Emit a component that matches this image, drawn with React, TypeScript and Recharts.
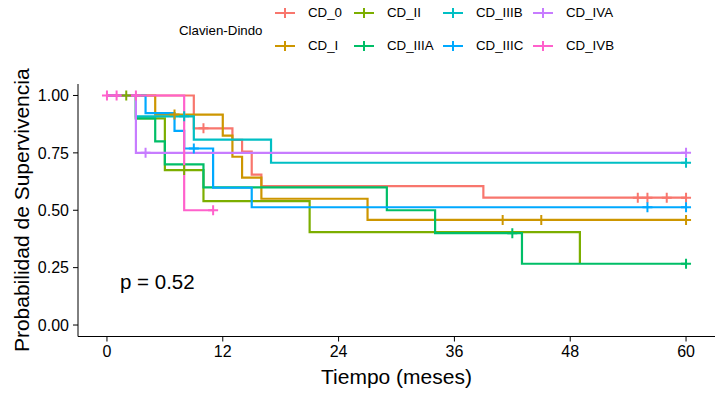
import { ComposedChart, Line, XAxis, YAxis } from 'recharts'

// curvas Kaplan-Meier por grado Clavien-Dindo (tiempo en meses, supervivencia)
const cd0Time = [0, 9, 13, 14, 15, 16, 39, 60]
const cd0Surv = [1, 0.857, 0.807, 0.756, 0.655, 0.605, 0.555, 0.555]
const cd0Cens = [10, 55, 56, 58, 60]

const cdITime = [0, 5, 12, 13, 14, 16, 27, 60]
const cdISurv = [1, 0.917, 0.825, 0.733, 0.642, 0.55, 0.458, 0.458]
const cdICens = [7, 41, 45, 60]

const cdIITime = [0, 3, 6, 10, 21, 49]
const cdIISurv = [1, 0.9, 0.675, 0.54, 0.405, 0.27]
const cdIICens = [2, 8]

const cdIIIATime = [0, 3, 5, 6, 10, 29, 34, 43, 60]
const cdIIIASurv = [1, 0.9, 0.8, 0.7, 0.6, 0.5, 0.4, 0.267, 0.267]
const cdIIIACens = [42, 60]

const cdIIIBTime = [0, 3, 9, 17, 60]
const cdIIIBSurv = [1, 0.909, 0.808, 0.707, 0.707]
const cdIIIBCens = [8, 60]

const cdIIICTime = [0, 4, 7, 8, 11, 15, 60]
const cdIIICSurv = [1, 0.923, 0.846, 0.769, 0.598, 0.513, 0.513]
const cdIIICCens = [9, 56, 60]

const cdIVATime = [0, 3, 60]
const cdIVASurv = [1, 0.75, 0.75]
const cdIVACens = [4, 60]

const cdIVBTime = [0, 8, 11]
const cdIVBSurv = [1, 0.5, 0.5]
const cdIVBCens = [0, 1, 3, 11]

const xTicks = [0, 12, 24, 36, 48, 60]
const yTicks = [0, 0.25, 0.5, 0.75, 1]
const pValue = 'p = 0.52'

const FONT = '"Liberation Sans", Arial, sans-serif'

const grupos = [
  { name: 'CD_0', color: '#F8766D', time: cd0Time, surv: cd0Surv, cens: cd0Cens },
  { name: 'CD_I', color: '#CD9600', time: cdITime, surv: cdISurv, cens: cdICens },
  { name: 'CD_II', color: '#7CAE00', time: cdIITime, surv: cdIISurv, cens: cdIICens },
  { name: 'CD_IIIA', color: '#00BE67', time: cdIIIATime, surv: cdIIIASurv, cens: cdIIIACens },
  { name: 'CD_IIIB', color: '#00BFC4', time: cdIIIBTime, surv: cdIIIBSurv, cens: cdIIIBCens },
  { name: 'CD_IIIC', color: '#00A9FF', time: cdIIICTime, surv: cdIIICSurv, cens: cdIIICCens },
  { name: 'CD_IVA', color: '#C77CFF', time: cdIVATime, surv: cdIVASurv, cens: cdIVACens },
  { name: 'CD_IVB', color: '#FF61CC', time: cdIVBTime, surv: cdIVBSurv, cens: cdIVBCens },
]

// valor de la curva escalonada en el tiempo t
function survAt(time: number[], surv: number[], t: number) {
  let s = surv[0]
  for (let i = 0; i < time.length; i++) if (time[i] <= t) s = surv[i]
  return s
}

const series = grupos.map((g) => ({
  ...g,
  steps: g.time.map((t, i) => ({ t, s: g.surv[i] })),
  marks: g.cens.map((t) => ({ t, s: survAt(g.time, g.surv, t) })),
}))

// orden de la leyenda: dos filas
const legendRows = [
  ['CD_0', 'CD_II', 'CD_IIIB', 'CD_IVA'],
  ['CD_I', 'CD_IIIA', 'CD_IIIC', 'CD_IVB'],
]
const legendCols = [285, 364, 453, 543]
const colorOf = (n: string) => grupos.find((g) => g.name === n)!.color

function plus(props: any, color: string) {
  const { cx, cy, key } = props
  if (cx == null || cy == null) return <g key={key} />
  return (
    <path
      key={key}
      d={`M${cx - 5},${cy}h10M${cx},${cy - 5}v10`}
      stroke={color}
      strokeWidth={2}
      fill="none"
    />
  )
}

export default function App() {
  return (
    <div style={{ position: 'absolute', left: 0, top: 0, width: 727, height: 393, background: '#fff', fontFamily: FONT }}>
      <ComposedChart width={727} height={393} margin={{ top: 84, right: 12, left: 0, bottom: 0 }}>
        <XAxis
          type="number"
          dataKey="t"
          domain={[-3, 63]}
          ticks={xTicks}
          allowDataOverflow
          height={56.5}
          stroke="#000"
          tickSize={5}
          tickMargin={4}
          tick={{ fontSize: 16, fill: '#000', fontFamily: FONT }}
          label={{ value: 'Tiempo (meses)', position: 'insideBottom', offset: 9, fontSize: 21, fill: '#000', fontFamily: FONT }}
        />
        <YAxis
          type="number"
          dataKey="s"
          domain={[-0.05, 1.05]}
          ticks={yTicks}
          allowDataOverflow
          width={78}
          stroke="#000"
          tickSize={5}
          tickMargin={4}
          tickFormatter={(v: number) => v.toFixed(2)}
          tick={{ fontSize: 16, fill: '#000', fontFamily: FONT }}
          label={{
            value: 'Probabilidad de Supervivencia',
            angle: -90,
            position: 'insideLeft',
            offset: 22,
            fontSize: 21,
            fill: '#000',
            fontFamily: FONT,
            style: { textAnchor: 'middle' },
          }}
        />
        {series.map((g) => (
          <Line
            key={g.name}
            data={g.steps}
            dataKey="s"
            type="stepAfter"
            stroke={g.color}
            strokeWidth={2.2}
            dot={false}
            activeDot={false}
            isAnimationActive={false}
          />
        ))}
        {series.map((g) => (
          <Line
            key={g.name + '-cens'}
            data={g.marks}
            dataKey="s"
            stroke="none"
            dot={(p: any) => plus(p, g.color)}
            activeDot={false}
            legendType="none"
            isAnimationActive={false}
          />
        ))}
      </ComposedChart>

      <div style={{ position: 'absolute', left: 120, top: 271, fontSize: 20.5, lineHeight: '22px', color: '#000' }}>
        {pValue}
      </div>

      <div style={{ position: 'absolute', left: 179, top: 22, fontSize: 13.3, lineHeight: '18px', color: '#000' }}>
        Clavien-Dindo
      </div>
      {legendRows.map((row, r) =>
        row.map((name, c) => {
          const color = colorOf(name)
          const cx = legendCols[c]
          const cy = r === 0 ? 13 : 46
          return (
            <div key={name}>
              <svg style={{ position: 'absolute', left: cx - 11, top: cy - 7 }} width={22} height={14}>
                <path d="M1,7h20M11,2v10" stroke={color} strokeWidth={2} fill="none" />
              </svg>
              <div style={{ position: 'absolute', left: cx + 23, top: cy - 9, fontSize: 13.3, lineHeight: '18px', color: '#000' }}>
                {name}
              </div>
            </div>
          )
        })
      )}
    </div>
  )
}
